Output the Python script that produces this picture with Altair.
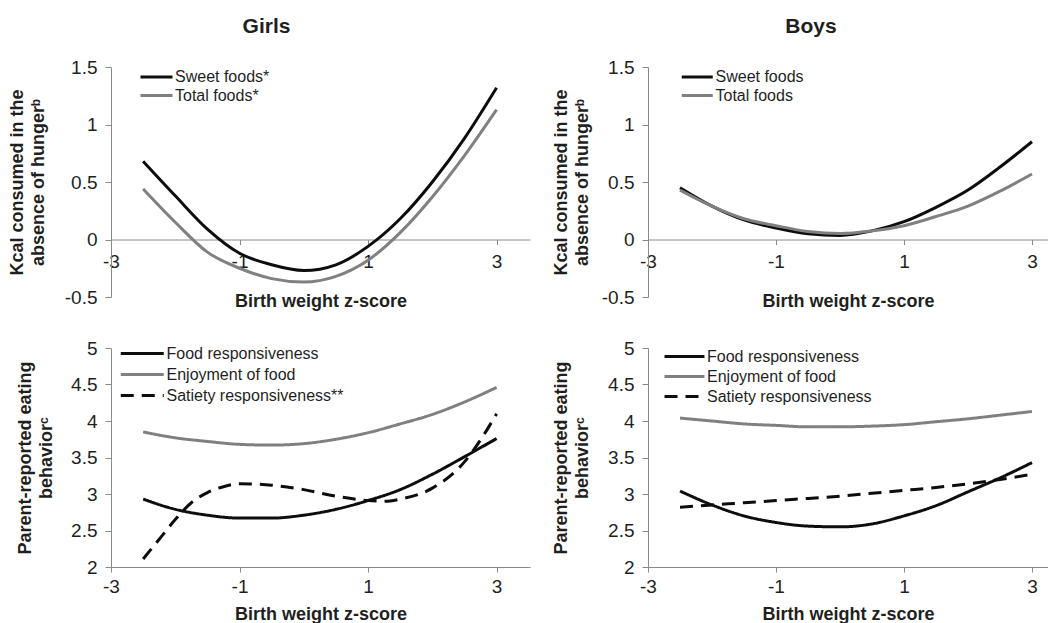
import altair as alt
import pandas as pd

# ---------------- data ----------------
z_main = [-2.5, -2, -1.5, -1, -0.5, 0, 0.5, 1, 1.5, 2, 2.5, 3]

# Girls, kcal consumed in the absence of hunger
girls_sweet = [0.68, 0.38, 0.09, -0.12, -0.22, -0.27, -0.22, -0.06, 0.18, 0.50, 0.88, 1.32]
girls_total = [0.44, 0.15, -0.11, -0.25, -0.34, -0.37, -0.32, -0.18, 0.06, 0.37, 0.73, 1.13]

# Boys, kcal consumed in the absence of hunger
boys_sweet = [0.45, 0.29, 0.17, 0.10, 0.05, 0.035, 0.075, 0.155, 0.28, 0.43, 0.63, 0.85]
boys_total = [0.43, 0.29, 0.18, 0.12, 0.07, 0.052, 0.075, 0.12, 0.20, 0.29, 0.42, 0.57]

# Girls, parent-reported eating behaviour
girls_food = [2.93, 2.79, 2.71, 2.67, 2.67, 2.71, 2.79, 2.91, 3.06, 3.27, 3.51, 3.76]
girls_enjoy = [3.85, 3.77, 3.72, 3.68, 3.67, 3.69, 3.75, 3.84, 3.96, 4.09, 4.26, 4.46]
z_sat_girls = [-2.5, -2.25, -2, -1.75, -1.5, -1.25, -1, -0.5, 0, 0.5, 1, 1.25, 1.5, 2, 2.5, 2.75, 3]
girls_satiety = [2.11, 2.38, 2.65, 2.88, 3.02, 3.10, 3.14, 3.12, 3.06, 2.97, 2.91, 2.90, 2.93, 3.08, 3.44, 3.74, 4.10]

# Boys, parent-reported eating behaviour
boys_food = [3.04, 2.85, 2.70, 2.61, 2.56, 2.55, 2.59, 2.70, 2.84, 3.03, 3.22, 3.43]
boys_enjoy = [4.04, 4.00, 3.96, 3.94, 3.92, 3.92, 3.93, 3.95, 3.99, 4.03, 4.08, 4.13]
boys_satiety = [2.82, 2.85, 2.88, 2.91, 2.94, 2.97, 3.01, 3.05, 3.09, 3.14, 3.20, 3.27]

x_ticks = [-3, -1, 1, 3]
y_ticks_kcal = [-0.5, 0, 0.5, 1, 1.5]
y_ticks_eat = [2, 2.5, 3, 3.5, 4, 4.5, 5]

kcal_title = ["Kcal consumed in the", "absence of hunger\u1d47"]
eat_title = ["Parent-reported eating", "behavior\u1d9c"]
x_title = "Birth weight z-score"

# ---------------- style ----------------
FONT = "Liberation Sans"
BLACK = "#0d0d0d"
GRAY = "#808080"
AXIS = "#8a8a8a"
TXT = "#1f1f1f"
DASH = [13, 8]
SOLID = [1, 0]
LINE_SYMBOL = "M-2,0H2"


def long_df(series_list):
    rows = []
    for name, xs, ys in series_list:
        for xv, yv in zip(xs, ys):
            rows.append({"series": name, "z": xv, "v": yv})
    return pd.DataFrame(rows)


def panel(df, names, colors, dashes, ydom, yticks, xmax, w, h, ytitle, ytitle_x,
          x_offset, xtitle_y, x_label_pad, lx, ly, sym_len, row_pad,
          title_text=None, title_dx=0):
    x = alt.X(
        "z:Q",
        scale=alt.Scale(domain=[-3, xmax], nice=False, zero=False),
        axis=alt.Axis(
            values=x_ticks, title=x_title, offset=x_offset, grid=False,
            domainColor=AXIS, tickColor=AXIS, tickSize=5, labelPadding=x_label_pad,
            labelFont=FONT, labelFontSize=19, labelColor=TXT, labelFlush=False,
            labelExpr="datum.value + ''",
            titleFont=FONT, titleFontSize=18, titleFontWeight="bold", titleColor=TXT,
            titleY=xtitle_y, titleBaseline="alphabetic",
        ),
    )
    y = alt.Y(
        "v:Q",
        scale=alt.Scale(domain=ydom, nice=False, zero=False),
        axis=alt.Axis(
            values=yticks, title=ytitle, grid=False,
            domainColor=AXIS, tickColor=AXIS, tickSize=6, labelPadding=8,
            labelFont=FONT, labelFontSize=19, labelColor=TXT,
            labelExpr="datum.value + ''",
            titleFont=FONT, titleFontSize=18, titleFontWeight="bold", titleColor=TXT,
            titleX=ytitle_x, titleBaseline="bottom", titleLineHeight=21,
        ),
    )
    half = sym_len / 2.0
    legend = alt.Legend(
        title=None, orient="none", legendX=lx + sym_len / 4.0, legendY=ly,
        symbolType=LINE_SYMBOL, symbolSize=half * half, symbolStrokeWidth=3,
        labelFont=FONT, labelFontSize=16, labelColor=TXT,
        labelOffset=sym_len / 4.0 + 1,
        labelLimit=400, rowPadding=row_pad, padding=0,
    )
    enc = dict(
        x=x, y=y,
        color=alt.Color("series:N", scale=alt.Scale(domain=names, range=colors),
                        legend=legend, sort=names),
    )
    if dashes is not None:
        enc["strokeDash"] = alt.StrokeDash(
            "series:N", scale=alt.Scale(domain=names, range=dashes),
            legend=legend, sort=names)
    props = dict(width=w, height=h)
    if title_text is not None:
        props["title"] = alt.TitleParams(
            text=title_text, font=FONT, fontSize=21, fontWeight="bold", color=TXT,
            anchor="middle", frame="group", dx=title_dx, offset=4.5,
            baseline="alphabetic")
    return (alt.Chart(df)
            .mark_line(strokeWidth=3, interpolate="monotone")
            .encode(**enc)
            .properties(**props))


top_names_g = ["Sweet foods*", "Total foods*"]
top_names_b = ["Sweet foods", "Total foods"]
bot_names_g = ["Food responsiveness", "Enjoyment of food", "Satiety responsiveness**"]
bot_names_b = ["Food responsiveness", "Enjoyment of food", "Satiety responsiveness"]

df_tl = long_df([(top_names_g[0], z_main, girls_sweet), (top_names_g[1], z_main, girls_total)])
df_tr = long_df([(top_names_b[0], z_main, boys_sweet), (top_names_b[1], z_main, boys_total)])
df_bl = long_df([(bot_names_g[0], z_main, girls_food), (bot_names_g[1], z_main, girls_enjoy),
                 (bot_names_g[2], z_sat_girls, girls_satiety)])
df_br = long_df([(bot_names_b[0], z_main, boys_food), (bot_names_b[1], z_main, boys_enjoy),
                 (bot_names_b[2], z_main, boys_satiety)])

TOP_H = 230
BOT_H = 219
LEFT_W = 419
RIGHT_W = 400

tl = panel(df_tl, top_names_g, [BLACK, GRAY], None, [-0.5, 1.5], y_ticks_kcal, 3.52,
           LEFT_W, TOP_H, kcal_title, -84.5, -57.5, 67, 8, 28, 0.5, 32, 0.5,
           title_text="Girls", title_dx=-54)
tr = panel(df_tr, top_names_b, [BLACK, GRAY], None, [-0.5, 1.5], y_ticks_kcal, 3.25,
           RIGHT_W, TOP_H, kcal_title, -78, -57.5, 67, 8, 32, 0.5, 31, 0.5,
           title_text="Boys", title_dx=-37)
bl = panel(df_bl, bot_names_g, [BLACK, GRAY, BLACK], [SOLID, SOLID, DASH], [2, 5], y_ticks_eat, 3.52,
           LEFT_W, BOT_H, eat_title, -76.5, 0, 52, 5, 8, -7, 43, 0)
br = panel(df_br, bot_names_b, [BLACK, GRAY, BLACK], [SOLID, SOLID, DASH], [2, 5], y_ticks_eat, 3.25,
           RIGHT_W, BOT_H, eat_title, -78, 0, 52, 5, 15, -3, 40, 0)

chart = (
    alt.concat(tl, tr, bl, br, columns=2, spacing={"row": 51, "column": 118}, bounds="flush")
    .resolve_scale(color="independent", strokeDash="independent")
    .resolve_legend(color="independent", strokeDash="independent")
    .configure_view(strokeOpacity=0)
    .properties(padding={"left": 0, "top": 7, "right": 0, "bottom": 0}, background="white")
)

chart.save("out.html", embed_options={"renderer": "svg", "actions": False})
